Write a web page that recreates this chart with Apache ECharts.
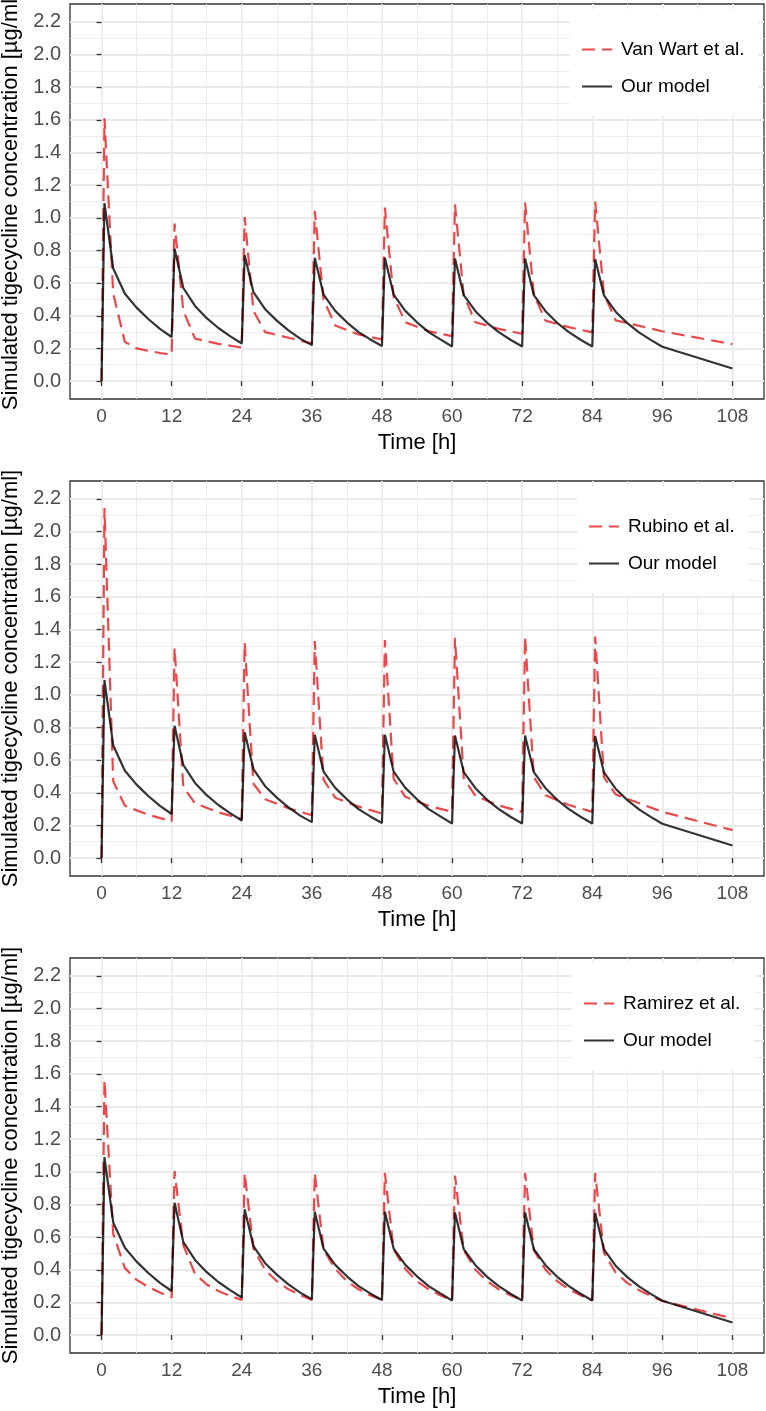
<!DOCTYPE html>
<html>
<head>
<meta charset="utf-8">
<script src="https://cdn.jsdelivr.net/npm/echarts@6/dist/echarts.min.js"></script>
<style>
  html, body { margin: 0; padding: 0; background: #fff; }
  #chart { width: 766px; height: 1411px; }
</style>
</head>
<body>
<div id="chart"></div>
<script>
// Tigecycline concentration: our model vs three published models (3 stacked panels)

const xTicks = [0, 12, 24, 36, 48, 60, 72, 84, 96, 108];
const xMinor = [6, 18, 30, 42, 54, 66, 78, 90, 102];
const yTicks = [0, 0.2, 0.4, 0.6, 0.8, 1.0, 1.2, 1.4, 1.6, 1.8, 2.0, 2.2];
const yMinor = [0.1, 0.3, 0.5, 0.7, 0.9, 1.1, 1.3, 1.5, 1.7, 1.9, 2.1];

const refNames = ['Van Wart et al.', 'Rubino et al.', 'Ramirez et al.'];
const modelName = 'Our model';

// our model (same curve in every panel)
const modelTime = [0, 0.5, 2, 4, 6, 8, 10, 12,
  12.5, 14, 16, 18, 20, 22, 24,
  24.5, 26, 28, 30, 32, 34, 36,
  36.5, 38, 40, 42, 44, 46, 48,
  48.5, 50, 52, 54, 56, 58, 60,
  60.5, 62, 64, 66, 68, 70, 72,
  72.5, 74, 76, 78, 80, 82, 84,
  84.5, 86, 88, 90, 92, 94, 96, 108];
const modelConc = [0, 1.09, 0.69, 0.535, 0.45, 0.38, 0.32, 0.27,
  0.81, 0.57, 0.46, 0.385, 0.325, 0.275, 0.23,
  0.77, 0.545, 0.44, 0.37, 0.31, 0.26, 0.22,
  0.755, 0.53, 0.43, 0.36, 0.30, 0.255, 0.215,
  0.755, 0.53, 0.43, 0.36, 0.30, 0.255, 0.212,
  0.75, 0.527, 0.428, 0.357, 0.30, 0.253, 0.212,
  0.75, 0.527, 0.428, 0.357, 0.30, 0.253, 0.212,
  0.748, 0.525, 0.425, 0.355, 0.298, 0.252, 0.21, 0.077];

const vanWartTime = [0, 0.5, 2, 4, 6, 8, 10, 12,
  12.5, 14, 16, 20, 24,
  24.5, 26, 28, 32, 36,
  36.5, 38, 40, 44, 48,
  48.5, 50, 52, 56, 60,
  60.5, 62, 64, 68, 72,
  72.5, 74, 76, 80, 84,
  84.5, 86, 88, 96, 108];
const vanWartConc = [0, 1.61, 0.535, 0.24, 0.2, 0.185, 0.172, 0.162,
  0.965, 0.43, 0.26, 0.228, 0.205,
  1.005, 0.43, 0.30, 0.265, 0.23,
  1.043, 0.50, 0.34, 0.285, 0.255,
  1.063, 0.515, 0.36, 0.305, 0.275,
  1.083, 0.525, 0.36, 0.32, 0.29,
  1.093, 0.53, 0.37, 0.33, 0.298,
  1.10, 0.535, 0.372, 0.305, 0.226];

const rubinoTime = [0, 0.5, 2, 4, 8, 12,
  12.5, 14, 16, 20, 24,
  24.5, 26, 28, 32, 36,
  36.5, 38, 40, 44, 48,
  48.5, 50, 52, 56, 60,
  60.5, 62, 64, 68, 72,
  72.5, 74, 76, 80, 84,
  84.5, 86, 88, 96, 108];
const rubinoConc = [0, 2.145, 0.47, 0.32, 0.265, 0.225,
  1.29, 0.435, 0.335, 0.28, 0.24,
  1.32, 0.455, 0.36, 0.305, 0.262,
  1.33, 0.48, 0.37, 0.315, 0.273,
  1.335, 0.485, 0.375, 0.32, 0.283,
  1.35, 0.49, 0.38, 0.322, 0.283,
  1.357, 0.495, 0.385, 0.325, 0.283,
  1.357, 0.496, 0.39, 0.283, 0.171];

const ramirezTime = [0, 0.5, 2, 4, 6, 8, 10, 12,
  12.5, 14, 16, 18, 20, 22, 24,
  24.5, 26, 28, 30, 32, 34, 36,
  36.5, 38, 40, 42, 44, 46, 48,
  48.5, 50, 52, 54, 56, 58, 60,
  60.5, 62, 64, 66, 68, 70, 72,
  72.5, 74, 76, 78, 80, 82, 84,
  84.5, 86, 88, 90, 92, 94, 96, 108];
const ramirezConc = [0, 1.563, 0.62, 0.41, 0.338, 0.295, 0.26, 0.23,
  1.005, 0.55, 0.375, 0.31, 0.27, 0.24, 0.215,
  0.993, 0.53, 0.40, 0.33, 0.28, 0.245, 0.215,
  0.993, 0.525, 0.405, 0.33, 0.28, 0.244, 0.214,
  0.993, 0.525, 0.405, 0.33, 0.28, 0.244, 0.213,
  0.977, 0.52, 0.40, 0.33, 0.28, 0.244, 0.214,
  0.993, 0.52, 0.40, 0.33, 0.28, 0.244, 0.213,
  0.993, 0.505, 0.383, 0.32, 0.275, 0.24, 0.209, 0.102];

const refTimes = [vanWartTime, rubinoTime, ramirezTime];
const refConcs = [vanWartConc, rubinoConc, ramirezConc];

// layout
const FONT = '"Liberation Sans", Arial, Helvetica, sans-serif';
const PANEL_TOP = [4, 481, 958];
const PANEL_H = 395;
const LEGEND_LEFT = [570, 577, 572];
const RED = 'rgba(230,20,25,0.78)';
const BLACK = 'rgba(0,0,0,0.8)';
const GRID_COL = '#ebebeb';

const pairs = (t, c) => t.map((v, i) => [v, c[i]]);

const grids = [], xAxes = [], yAxes = [], series = [], legends = [];

PANEL_TOP.forEach((top, i) => {
  grids.push({
    left: 70, top, width: 694, height: PANEL_H,
    outerBoundsMode: 'none', containLabel: false,
    show: true, borderColor: '#333', borderWidth: 1.3, backgroundColor: 'transparent',
  });

  // main x axis + minor grid axis
  xAxes.push({
    gridIndex: i, type: 'value', min: -5.4, max: 113.4,
    name: 'Time [h]', nameLocation: 'middle', nameGap: 33,
    nameTextStyle: { fontSize: 22, color: '#000', fontFamily: FONT },
    axisLine: { show: false },
    axisTick: { customValues: xTicks, length: 5, lineStyle: { color: '#333', width: 1.3 } },
    axisLabel: { customValues: xTicks, margin: 8, color: '#4d4d4d', fontSize: 19, fontFamily: FONT },
    splitLine: { show: true, lineStyle: { color: GRID_COL, width: 1.8 } },
  });
  xAxes.push({
    gridIndex: i, type: 'value', min: -5.4, max: 113.4, position: 'top',
    axisLine: { show: false },
    axisTick: { show: false, customValues: xMinor },
    axisLabel: { show: false },
    splitLine: { show: true, lineStyle: { color: GRID_COL, width: 0.9 } },
  });

  yAxes.push({
    gridIndex: i, type: 'value', min: -0.11, max: 2.31,
    name: 'Simulated tigecycline concentration [µg/ml]', nameLocation: 'middle', nameGap: 48,
    nameTextStyle: { fontSize: 22, color: '#000', fontFamily: FONT },
    axisLine: { show: false },
    axisTick: { customValues: yTicks, length: 5, lineStyle: { color: '#333', width: 1.3 } },
    axisLabel: {
      customValues: yTicks, margin: 9, color: '#4d4d4d', fontSize: 20, fontFamily: FONT,
      formatter: (v) => Number(v).toFixed(1),
    },
    splitLine: { show: true, lineStyle: { color: GRID_COL, width: 1.8 } },
  });
  yAxes.push({
    gridIndex: i, type: 'value', min: -0.11, max: 2.31, position: 'right',
    axisLine: { show: false },
    axisTick: { show: false, customValues: yMinor },
    axisLabel: { show: false },
    splitLine: { show: true, lineStyle: { color: GRID_COL, width: 0.9 } },
  });

  series.push({
    name: refNames[i], type: 'line', xAxisIndex: 2 * i, yAxisIndex: 2 * i,
    data: pairs(refTimes[i], refConcs[i]),
    symbol: 'none', z: 2,
    lineStyle: { color: RED, width: 2.2, type: [13, 7] },
    itemStyle: { color: RED },
  });
  series.push({
    name: modelName, type: 'line', xAxisIndex: 2 * i, yAxisIndex: 2 * i,
    data: pairs(modelTime, modelConc),
    symbol: 'none', z: 3,
    lineStyle: { color: BLACK, width: 2.2 },
    itemStyle: { color: BLACK },
  });

  legends.push({
    data: [refNames[i], modelName],
    orient: 'vertical',
    left: LEGEND_LEFT[i], top: top + 5,
    padding: [31, 14, 20, 11],
    itemGap: 18, itemWidth: 30, itemHeight: 14,
    backgroundColor: '#fff',
    selectedMode: false,
    itemStyle: { opacity: 0 },
    textStyle: { fontSize: 19, color: '#000', fontFamily: FONT, padding: [0, 0, 0, 4] },
  });
});

const chart = echarts.init(document.getElementById('chart'));
chart.setOption({
  animation: false,
  backgroundColor: '#fff',
  grid: grids,
  xAxis: xAxes,
  yAxis: yAxes,
  legend: legends,
  series,
});
</script>
</body>
</html>
